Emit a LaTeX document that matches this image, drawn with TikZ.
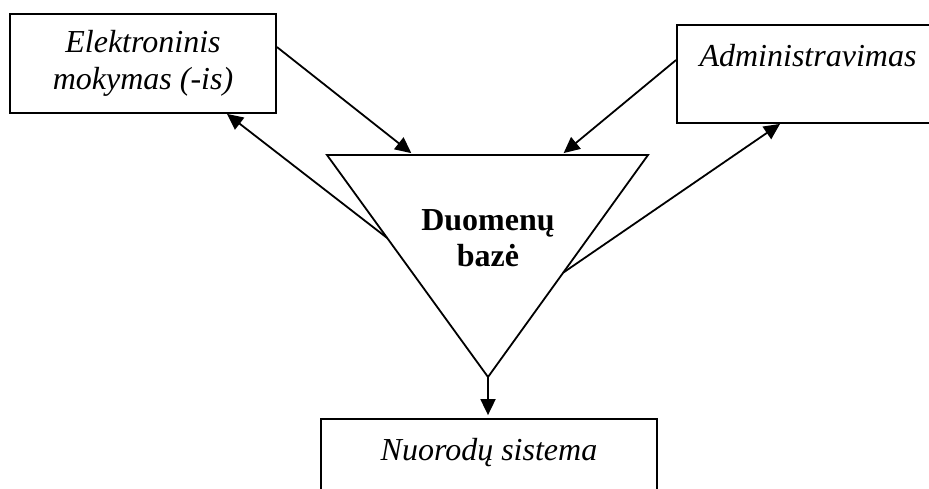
\documentclass[tikz,border=0pt]{standalone}
\usepackage{fontspec}
\setmainfont{Liberation Serif}
\usetikzlibrary{arrows.meta, positioning, calc}

\begin{document}
\begin{tikzpicture}[x=0.5pt, y=-0.5pt, line width=0.9pt,
  box/.style={draw, rectangle, align=center,
    font=\fontsize{16}{18.5}\selectfont\itshape},
  arr/.style={-{Triangle[length=8pt, width=7.5pt]}}]
  \clip (0,0) rectangle (929,488);

  % boxes
  \node[box, minimum width=133pt, minimum height=49.5pt] (elek) at (143,63.5)
    {Elektroninis\\mokymas (-is)};
  \node[box, minimum width=131pt, minimum height=49pt] (admin) at (808,74)
    {Administravimas\\\mbox{}};
  \node[box, minimum width=168pt, minimum height=49pt] (nuor) at (489,468)
    {Nuorodų sistema\\\mbox{}};

  % triangle
  \coordinate (tl) at (327,155);
  \coordinate (tr) at (648,155);
  \coordinate (tb) at (488,377);
  \draw (tl) -- (tr) -- (tb) -- cycle;
  \node[align=center, font=\fontsize{16}{18}\selectfont\bfseries] (db) at (488,238)
    {Duomenų\\bazė};

  % arrow ends on the triangle
  \coordinate (in1) at ($(tl)!0.27!(tr)$);
  \coordinate (in2) at ($(tl)!0.73!(tr)$);
  \coordinate (out1) at ($(tl)!0.374!(tb)$);
  \coordinate (out2) at ($(tr)!0.53!(tb)$);

  \draw[arr, shorten >=1.5pt] (elek.east |- 0,47) -- (in1);
  \draw[arr] (out1) -- (elek.south -| 227,0);
  \draw[arr, shorten >=1.5pt] (admin.west |- 0,60) -- (in2);
  \draw[arr] (out2) -- (admin.south -| 780,0);
  \draw[arr, shorten >=1.5pt] (tb) -- (nuor.north -| tb);
\end{tikzpicture}
\end{document}
